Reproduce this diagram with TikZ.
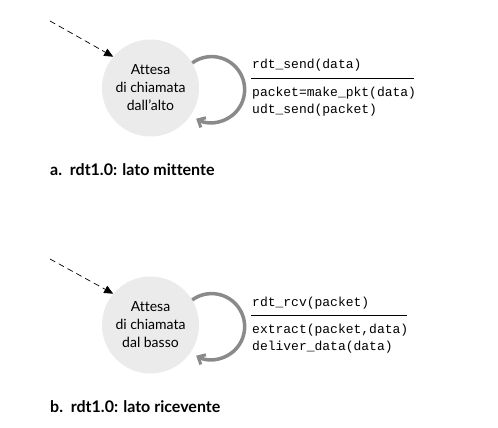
\documentclass[tikz,border=0pt]{standalone}
\usepackage{fontspec}
\setmainfont{Lato}[Ligatures={NoCommon}]
\newfontfamily\codefont{Liberation Mono}
\usetikzlibrary{arrows.meta}
\definecolor{statefill}{HTML}{EBEBEB}
\definecolor{loopgray}{HTML}{8A8A8A}
\begin{document}
\begin{tikzpicture}[x=1pt,y=1pt,
  state/.style={circle,fill=statefill,minimum size=97pt,inner sep=0pt,align=center,
    font=\fontsize{14}{18}\selectfont},
  initarrow/.style={draw=black,line width=0.7pt,dash pattern=on 6pt off 4pt,
    -{Triangle[length=9pt,width=8pt]}},
  selfloop/.style={draw=loopgray,line width=3.5pt,
    -{Straight Barb[length=6pt,width=11pt,line width=3pt]}},
  code/.style={anchor=west,inner sep=0pt,font=\codefont\fontsize{13}{17}\selectfont},
  caption/.style={anchor=west,inner sep=0pt,font=\bfseries\fontsize{16}{18}\selectfont}]
\useasboundingbox (0,0) rectangle (498,428);
% --- a. sender
\node[state] (s1) at (150.5,340) {Attesa\\di chiamata\\dall’alto};
\coordinate (i1) at (50,407);
\draw[initarrow] (i1) -- (s1.140);
\draw[selfloop] (s1.31) arc[start angle=126,end angle=-118,radius=33];
\node[code] (e1) at (252,363) {rdt\_send(data)};
\coordinate (l1a) at (251,350);
\coordinate (l1b) at (414,350);
\draw[line width=0.8pt] (l1a) -- (l1b);
\node[code] (a1) at (252,335) {packet=make\_pkt(data)};
\node[code] (b1) at (252,318) {udt\_send(packet)};
\node[caption] (c1) at (50,258) {a.\ \ rdt1.0: lato mittente};
% --- b. receiver
\node[state] (s2) at (150.5,103) {Attesa\\di chiamata\\dal basso};
\coordinate (i2) at (50,169);
\draw[initarrow] (i2) -- (s2.140);
\draw[selfloop] (s2.31) arc[start angle=126,end angle=-118,radius=33];
\node[code] (e2) at (252,125) {rdt\_rcv(packet)};
\coordinate (l2a) at (251,113);
\coordinate (l2b) at (407,113);
\draw[line width=0.8pt] (l2a) -- (l2b);
\node[code] (a2) at (252,98) {extract(packet,data)};
\node[code] (b2) at (252,81) {deliver\_data(data)};
\node[caption] (c2) at (50,21) {b.\ \ rdt1.0: lato ricevente};
\end{tikzpicture}
\end{document}
